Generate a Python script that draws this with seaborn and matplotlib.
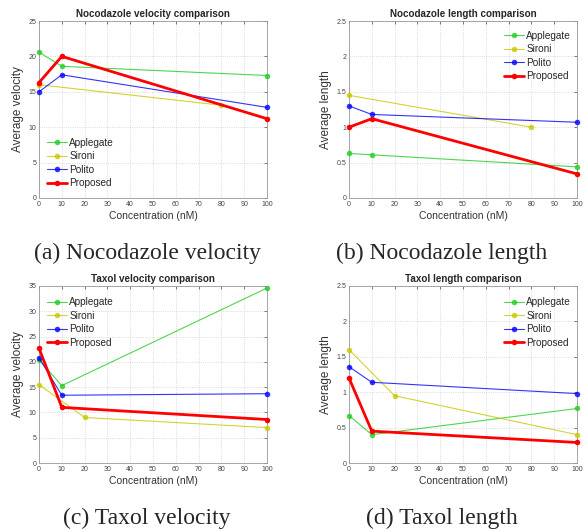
import matplotlib
matplotlib.use("Agg")
import matplotlib.pyplot as plt
import seaborn as sns
import pandas as pd

sns.set_style("white")
plt.rcParams['font.family'] = ['Liberation Sans', 'DejaVu Sans']

methods = ["Applegate", "Sironi", "Polito", "Proposed"]
colors = {"Applegate": "#22cc22", "Sironi": "#c8c800", "Polito": "#0000ff", "Proposed": "#ff0000"}
widths = {"Applegate": 0.8, "Sironi": 0.8, "Polito": 0.8, "Proposed": 2.0}

# Nocodazole velocity
nv_app_x = [0, 10, 100]; nv_app_y = [20.6, 18.6, 17.3]
nv_sir_x = [0, 80];      nv_sir_y = [16.0, 13.1]
nv_pol_x = [0, 10, 100]; nv_pol_y = [15.0, 17.4, 12.8]
nv_pro_x = [0, 10, 100]; nv_pro_y = [16.3, 20.0, 11.2]

# Nocodazole length
nl_app_x = [0, 10, 100]; nl_app_y = [0.63, 0.61, 0.44]
nl_sir_x = [0, 80];      nl_sir_y = [1.45, 1.00]
nl_pol_x = [0, 10, 100]; nl_pol_y = [1.30, 1.18, 1.07]
nl_pro_x = [0, 10, 100]; nl_pro_y = [1.00, 1.12, 0.34]

# Taxol velocity
tv_app_x = [0, 10, 100]; tv_app_y = [20.4, 15.3, 34.6]
tv_sir_x = [0, 20, 100]; tv_sir_y = [15.5, 9.0, 7.0]
tv_pol_x = [0, 10, 100]; tv_pol_y = [20.8, 13.4, 13.7]
tv_pro_x = [0, 10, 100]; tv_pro_y = [22.7, 11.0, 8.6]

# Taxol length
tl_app_x = [0, 10, 100]; tl_app_y = [0.67, 0.40, 0.77]
tl_sir_x = [0, 20, 100]; tl_sir_y = [1.60, 0.95, 0.40]
tl_pol_x = [0, 10, 100]; tl_pol_y = [1.36, 1.14, 0.98]
tl_pro_x = [0, 10, 100]; tl_pro_y = [1.20, 0.45, 0.29]

panels = [
    dict(title="Nocodazole velocity comparison", ylabel="Average velocity", ymax=25, ystep=5,
         data=[(nv_app_x, nv_app_y), (nv_sir_x, nv_sir_y), (nv_pol_x, nv_pol_y), (nv_pro_x, nv_pro_y)],
         caption="(a) Nocodazole velocity", rect=[39/588, 1-198/532, 228/588, 177/532],
         capx=147/588, leg=("lower left", (0.01, 0.02))),
    dict(title="Nocodazole length comparison", ylabel="Average length", ymax=2.5, ystep=0.5,
         data=[(nl_app_x, nl_app_y), (nl_sir_x, nl_sir_y), (nl_pol_x, nl_pol_y), (nl_pro_x, nl_pro_y)],
         caption="(b) Nocodazole length", rect=[349/588, 1-198/532, 228/588, 177/532],
         capx=442/588, leg=("upper right", (1.0, 0.98))),
    dict(title="Taxol velocity comparison", ylabel="Average velocity", ymax=35, ystep=5,
         data=[(tv_app_x, tv_app_y), (tv_sir_x, tv_sir_y), (tv_pol_x, tv_pol_y), (tv_pro_x, tv_pro_y)],
         caption="(c) Taxol velocity", rect=[39/588, 1-463/532, 228/588, 177/532],
         capx=147/588, leg=("upper left", (0.01, 0.97))),
    dict(title="Taxol length comparison", ylabel="Average length", ymax=2.5, ystep=0.5,
         data=[(tl_app_x, tl_app_y), (tl_sir_x, tl_sir_y), (tl_pol_x, tl_pol_y), (tl_pro_x, tl_pro_y)],
         caption="(d) Taxol length", rect=[349/588, 1-463/532, 228/588, 177/532],
         capx=442/588, leg=("upper right", (1.0, 0.97))),
]

fig = plt.figure(figsize=(5.88, 5.32), dpi=100)

def fmt(v):
    return f"{v:g}"

for p in panels:
    ax = fig.add_axes(p["rect"])
    rows = []
    for m, (xs, ys) in zip(methods, p["data"]):
        for x, y in zip(xs, ys):
            rows.append({"method": m, "conc": x, "val": y})
    df = pd.DataFrame(rows)
    for m in methods:
        sub = df[df["method"] == m]
        sns.lineplot(data=sub, x="conc", y="val", ax=ax, color=colors[m], linewidth=widths[m],
                     marker="o", markersize=4, markeredgewidth=0, label=m,
                     alpha=1.0 if m == "Proposed" else 0.8, estimator=None, sort=False,
                     clip_on=False, zorder=3)
    ax.set_xlim(0, 100)
    ax.set_ylim(0, p["ymax"])
    ax.set_xticks(range(0, 101, 10))
    n = int(round(p["ymax"] / p["ystep"]))
    yt = [round(i * p["ystep"], 2) for i in range(n + 1)]
    ax.set_yticks(yt)
    ax.set_yticklabels([fmt(v) for v in yt])
    ax.grid(True, linestyle=":", color="#cfcfcf", linewidth=0.6)
    ax.tick_params(direction="in", length=2.5, width=0.5, labelsize=5, colors="#444444",
                   top=True, right=True, pad=2)
    for s in ax.spines.values():
        s.set_color("#999999")
        s.set_linewidth(0.6)
    ax.set_title(p["title"], fontsize=7.1, fontweight="bold", pad=3)
    ax.set_xlabel("Concentration (nM)", fontsize=7.5, color="#333333", labelpad=2)
    ax.set_ylabel(p["ylabel"], fontsize=8.5, color="#333333", labelpad=3)
    loc, anchor = p["leg"]
    ax.legend(loc=loc, bbox_to_anchor=anchor, frameon=False, fontsize=7.2,
              handlelength=2.0, handletextpad=0.2, labelspacing=0.35, borderaxespad=0.2)
    cy = p["rect"][1] - 55 / 532
    fig.text(p["capx"], cy, p["caption"], ha="center", va="center", fontsize=17,
             family=["Liberation Serif", "DejaVu Serif"])

fig.savefig("out.png", dpi=100, facecolor="white")
